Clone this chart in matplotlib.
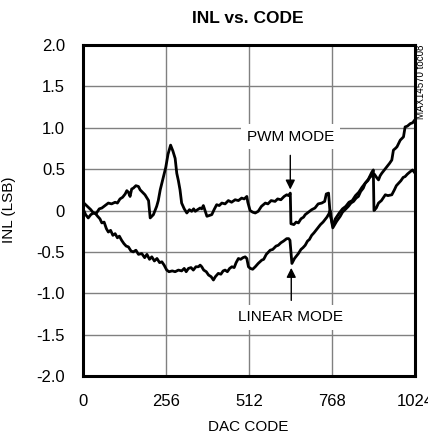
import matplotlib
matplotlib.use("Agg")
import matplotlib.pyplot as plt

plt.rcParams["font.family"] = ["Liberation Sans", "DejaVu Sans"]

# PWM mode INL
pwm_code = [0, 8, 16, 24, 32, 40, 50, 58, 68, 78, 88, 99, 106, 114, 122, 130, 135, 140, 145,
            150, 155, 163, 171, 176, 181, 191, 202, 207, 212, 217, 222, 227, 232, 238, 243,
            248, 255, 262, 270, 277, 284, 289, 294, 299, 304, 312, 320, 328, 335, 341, 346,
            353, 361, 366, 371, 376, 382, 390, 397, 404, 412, 420, 428, 438, 448, 458, 469,
            479, 489, 497, 505, 508, 515, 523, 531, 540, 550, 562, 570, 580, 592, 600, 610,
            620, 628, 634, 639, 641, 650, 657, 664, 672, 680, 685, 695, 705, 715, 725, 736,
            745, 750, 757, 762, 770, 778, 790, 800, 810, 820, 830, 840, 850, 860, 870, 880,
            890, 895, 897, 904, 911, 920, 932, 940, 952, 960, 966, 973, 980, 987, 993, 1000,
            1009, 1016, 1024]
pwm_inl = [0.02, -0.05, -0.09, -0.05, -0.03, -0.04, 0.02, 0.03, 0.06, 0.09, 0.08, 0.10, 0.09,
           0.14, 0.16, 0.20, 0.24, 0.22, 0.17, 0.26, 0.27, 0.30, 0.29, 0.25, 0.23, 0.19, 0.12,
           -0.09, -0.07, -0.05, 0.00, 0.05, 0.12, 0.25, 0.33, 0.41, 0.52, 0.68, 0.79, 0.72,
           0.63, 0.45, 0.36, 0.25, 0.09, 0.02, -0.03, 0.01, -0.01, 0.02, -0.01, 0.01, 0.03,
           0.02, 0.06, 0.00, -0.07, -0.06, -0.05, 0.01, 0.07, 0.06, 0.09, 0.08, 0.12, 0.10,
           0.13, 0.12, 0.15, 0.14, 0.17, 0.10, 0.00, -0.02, -0.03, -0.01, 0.05, 0.09, 0.08,
           0.12, 0.11, 0.14, 0.13, 0.17, 0.19, 0.18, 0.21, -0.16, -0.17, -0.14, -0.15, -0.10,
           -0.08, -0.05, -0.02, 0.01, 0.03, 0.08, 0.09, 0.11, 0.20, 0.21, -0.05, -0.18, -0.10,
           -0.03, 0.02, 0.05, 0.10, 0.12, 0.18, 0.22, 0.28, 0.33, 0.38, 0.46, 0.49, 0.00, 0.03,
           0.09, 0.12, 0.19, 0.18, 0.19, 0.25, 0.30, 0.33, 0.36, 0.40, 0.41, 0.44, 0.47, 0.49,
           0.45]

# linear mode INL
lin_code = [0, 8, 16, 24, 32, 37, 45, 52, 58, 65, 72, 78, 85, 92, 99, 106, 112, 119, 126, 133,
            140, 148, 155, 163, 171, 181, 190, 197, 205, 212, 220, 228, 236, 243, 250, 258,
            265, 275, 284, 294, 304, 312, 318, 325, 333, 340, 348, 356, 361, 366, 372, 380,
            387, 395, 402, 408, 417, 425, 432, 438, 445, 452, 459, 466, 472, 479, 486, 493,
            500, 505, 510, 516, 523, 531, 540, 551, 557, 565, 577, 585, 595, 602, 610, 618,
            628, 634, 638, 644, 652, 658, 664, 672, 678, 685, 692, 698, 705, 712, 718, 726,
            732, 740, 746, 752, 758, 762, 766, 770, 776, 782, 793, 800, 808, 818, 826, 834,
            842, 849, 856, 864, 870, 878, 884, 890, 898, 905, 911, 916, 921, 929, 937, 945,
            952, 957, 963, 968, 973, 978, 983, 988, 993, 1000, 1009, 1016, 1024]
lin_inl = [0.10, 0.07, 0.04, 0.01, -0.03, -0.03, -0.07, -0.10, -0.15, -0.14, -0.22, -0.26,
           -0.24, -0.30, -0.28, -0.33, -0.31, -0.36, -0.40, -0.43, -0.44, -0.49, -0.50, -0.48,
           -0.53, -0.52, -0.57, -0.53, -0.59, -0.56, -0.61, -0.58, -0.63, -0.62, -0.66, -0.72,
           -0.74, -0.73, -0.74, -0.72, -0.73, -0.70, -0.74, -0.70, -0.69, -0.72, -0.68, -0.68,
           -0.66, -0.68, -0.72, -0.74, -0.78, -0.80, -0.84, -0.80, -0.76, -0.77, -0.73, -0.72,
           -0.74, -0.70, -0.68, -0.69, -0.63, -0.58, -0.59, -0.57, -0.56, -0.58, -0.68, -0.70,
           -0.71, -0.68, -0.64, -0.60, -0.59, -0.53, -0.48, -0.47, -0.43, -0.42, -0.39, -0.37,
           -0.34, -0.34, -0.36, -0.64, -0.58, -0.55, -0.52, -0.47, -0.45, -0.42, -0.37, -0.35,
           -0.30, -0.27, -0.24, -0.20, -0.17, -0.14, -0.11, -0.08, -0.04, 0.00, -0.12, -0.21,
           -0.17, -0.13, -0.07, -0.02, 0.01, 0.05, 0.09, 0.11, 0.15, 0.17, 0.23, 0.27, 0.33,
           0.36, 0.40, 0.42, 0.44, 0.40, 0.37, 0.42, 0.45, 0.49, 0.53, 0.57, 0.61, 0.73, 0.75,
           0.77, 0.81, 0.85, 0.87, 0.89, 1.01, 1.02, 1.05, 1.06, 1.10]

x_ticks = [0, 256, 512, 768, 1024]
y_ticks = [2.0, 1.5, 1.0, 0.5, 0, -0.5, -1.0, -1.5, -2.0]
y_labels = ["2.0", "1.5", "1.0", "0.5", "0", "-0.5", "-1.0", "-1.5", "-2.0"]

fig = plt.figure(figsize=(4.28, 4.38), dpi=100)
ax = fig.add_axes([0.194, 0.1416, 0.776, 0.7556])

ax.plot(pwm_code, pwm_inl, color="black", lw=2.0, zorder=3)
ax.plot(lin_code, lin_inl, color="black", lw=2.0, zorder=3)

ax.set_xlim(0, 1024)
ax.set_ylim(-2, 2)
ax.set_xticks(x_ticks)
ax.set_yticks(y_ticks)
ax.set_yticklabels(y_labels)
ax.tick_params(length=0, labelsize=12)
ax.tick_params(axis="x", pad=13)
ax.tick_params(axis="y", pad=13)
ax.grid(True, color="#808080", lw=1.0)
for s in ax.spines.values():
    s.set_linewidth(2.2)

# annotations
box = dict(facecolor="white", edgecolor="none", pad=4)
ax.text(640, 0.89, "PWM MODE", ha="center", va="center", fontsize=11, bbox=box, zorder=4)
ax.annotate("", xy=(639, 0.22), xytext=(639, 0.70),
            arrowprops=dict(arrowstyle="-|>", color="black", lw=1.0, mutation_scale=14), zorder=4)
ax.text(640, -1.29, "LINEAR MODE", ha="center", va="center", fontsize=11, bbox=box, zorder=4)
ax.annotate("", xy=(642, -0.66), xytext=(642, -1.12),
            arrowprops=dict(arrowstyle="-|>", color="black", lw=1.0, mutation_scale=14), zorder=4)

fig.text(0.579, 0.958, "INL vs. CODE", ha="center", va="center", fontsize=12.5, fontweight="bold")
fig.text(0.579, 0.026, "DAC CODE", ha="center", va="center", fontsize=11)
fig.text(0.022, 0.52, "INL (LSB)", ha="center", va="center", rotation=90, fontsize=11)
fig.text(0.983, 0.897, "MAX14570 toc08", ha="center", va="top", rotation=90, fontsize=7)

fig.savefig("out.png", dpi=100)
